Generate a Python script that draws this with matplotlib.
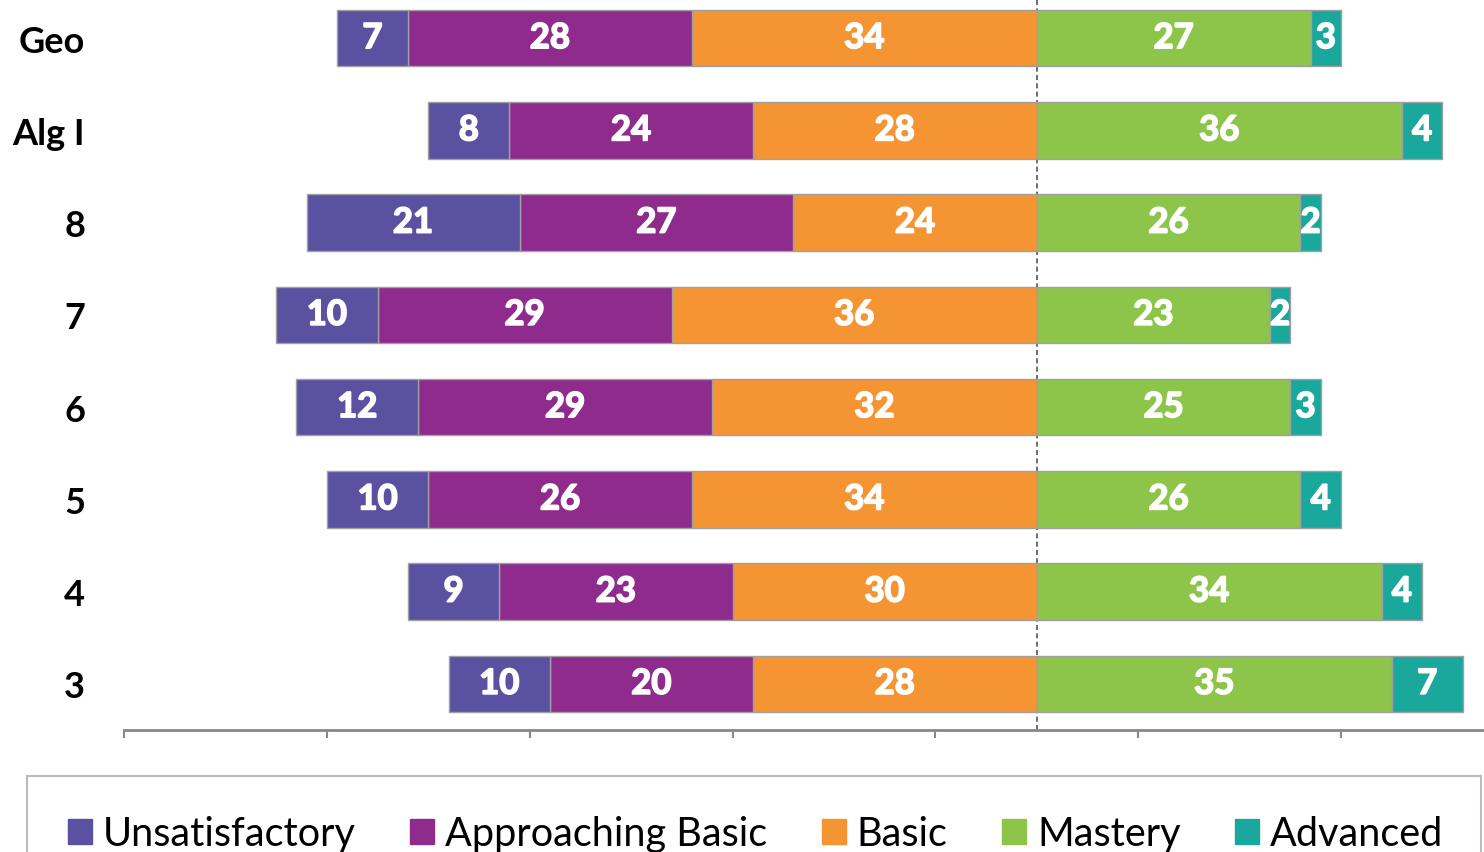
import matplotlib.pyplot as plt
import matplotlib.patheffects as pe
from matplotlib.patches import Rectangle
import numpy as np

# データ (上から下の順)
grades = ["Geo", "Alg I", "8", "7", "6", "5", "4", "3"]
unsatisfactory = [7, 8, 21, 10, 12, 10, 9, 10]
approaching = [28, 24, 27, 29, 29, 26, 23, 20]
basic = [34, 28, 24, 36, 32, 34, 30, 28]
mastery = [27, 36, 26, 23, 25, 26, 34, 35]
advanced = [3, 4, 2, 2, 3, 4, 4, 7]

levels = ["Unsatisfactory", "Approaching Basic", "Basic", "Mastery", "Advanced"]
colors = ["#5B51A1", "#8E2B8C", "#F59433", "#8DC44A", "#1BA89C"]

plt.rcParams['font.family'] = ['Lato', 'DejaVu Sans']

fig = plt.figure(figsize=(14.84, 8.53), dpi=100)
ax = fig.add_axes([124 / 1484, 1 - 731 / 853, 1 - 124 / 1484, 738 / 853])

y = np.arange(len(grades))[::-1]
stroke = [pe.withStroke(linewidth=1.2, foreground="white")]

# 左側 (Basic, Approaching, Unsatisfactory を中央から左へ)
left_series = [basic, approaching, unsatisfactory]
left_colors = [colors[2], colors[1], colors[0]]
start = np.zeros(len(grades))
for vals, c in zip(left_series, left_colors):
    vals = np.array(vals)
    ax.barh(y, -vals, left=-start, height=0.61, color=c, edgecolor="#A0A0A0", linewidth=1)
    for yi, s, v in zip(y, start, vals):
        ax.text(-(s + v / 2), yi, str(v), ha="center", va="center", color="white",
                fontsize=25, fontweight="bold", path_effects=stroke)
    start = start + vals

# 右側 (Mastery, Advanced)
start = np.zeros(len(grades))
for vals, c in zip([mastery, advanced], [colors[3], colors[4]]):
    vals = np.array(vals)
    ax.barh(y, vals, left=start, height=0.61, color=c, edgecolor="#A0A0A0", linewidth=1)
    for yi, s, v in zip(y, start, vals):
        ax.text(s + v / 2, yi, str(v), ha="center", va="center", color="white",
                fontsize=25, fontweight="bold", path_effects=stroke)
    start = start + vals

ax.axvline(0, color="#555555", linestyle=(0, (3, 2)), linewidth=1.2, zorder=0.5)

ax.set_xlim(-90, 44.1)
ax.set_ylim(-0.5, 7.5)
ax.set_xticks(np.arange(-90, 44, 20))
ax.set_xticklabels([])
ax.tick_params(axis="x", direction="out", length=6, color="#888888", width=1.5)
ax.set_yticks(y)
ax.set_yticklabels(grades, fontsize=26, fontweight="bold")
ax.tick_params(axis="y", length=0, pad=28)
for sp in ["left", "right", "top"]:
    ax.spines[sp].set_visible(False)
ax.spines["bottom"].set_color("#888888")
ax.spines["bottom"].set_linewidth(2)

# 凡例の枠
fig.patches.append(Rectangle((27 / 1484, -0.1), (1481 - 27) / 1484, 0.1 + (853 - 777) / 853,
                             transform=fig.transFigure, fill=False, edgecolor="#BBBBBB",
                             linewidth=1.5))
handles = [Rectangle((0, 0), 1, 1, color=c) for c in colors]
fig.legend(handles, levels, loc="center left", bbox_to_anchor=(68 / 1484, 1 - 835 / 853),
           ncol=5, frameon=False, fontsize=28.5, handlelength=0.6, handleheight=0.6,
           handletextpad=0.28, columnspacing=1.38, borderaxespad=0, borderpad=0)

fig.savefig("out.png", dpi=100)
